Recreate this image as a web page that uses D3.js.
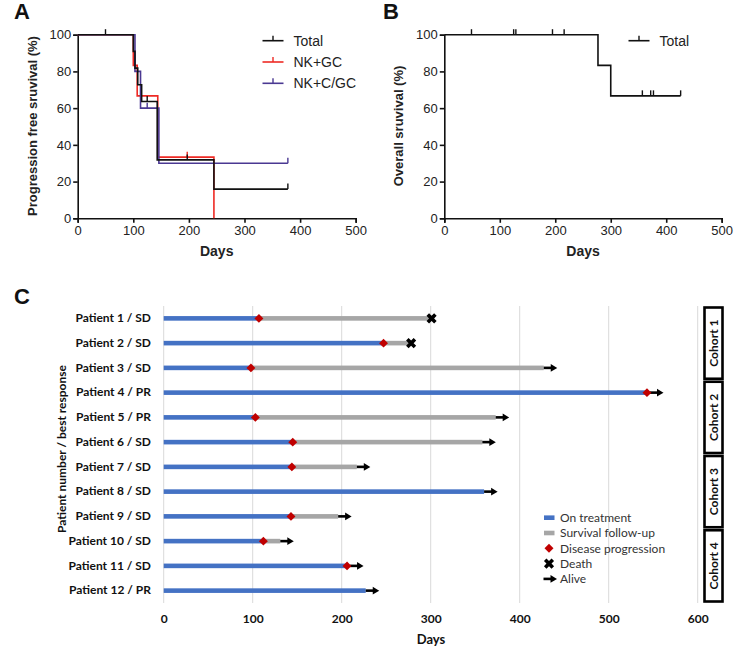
<!DOCTYPE html>
<html>
<head>
<meta charset="utf-8">
<script src="https://cdn.jsdelivr.net/npm/d3@7"></script>
<style>
  html, body { margin: 0; padding: 0; background: #fff; }
  svg { display: block; }
</style>
</head>
<body>
<svg id="chart" width="752" height="647"></svg>
<script>
// ---------------- DATA ----------------
// Panel A: progression-free survival (Kaplan–Meier steps)
const pfsTotalDays = [0, 100, 103, 108, 115, 143, 245, 378];
const pfsTotalSurv = [100, 90.9, 81.8, 72.7, 63.6, 31.8, 15.9, 15.9];
const pfsTotalCensored = [50, 125, 197, 378];

const pfsNkGcDays = [0, 100, 107, 144, 245];
const pfsNkGcSurv = [100, 83.3, 66.7, 33.3, 0];
const pfsNkGcCensored = [197];

const pfsNkCgcDays = [0, 103, 113, 146, 378];
const pfsNkCgcSurv = [100, 80, 60, 30, 30];
const pfsNkCgcCensored = [125, 378];

// Panel B: overall survival
const osTotalDays = [0, 277, 300, 426];
const osTotalSurv = [100, 83.3, 66.7, 66.7];
const osTotalCensored = [49, 125, 129, 195, 216, 357, 372, 377, 426];

const kmSeriesNames = ["Total", "NK+GC", "NK+C/GC"];
const kmXTicks = [0, 100, 200, 300, 400, 500];
const kmYTicks = [0, 20, 40, 60, 80, 100];

// Panel C: swimmer plot
const patients = ["Patient 1 / SD", "Patient 2 / SD", "Patient 3 / SD", "Patient 4 / PR",
  "Patient 5 / PR", "Patient 6 / SD", "Patient 7 / SD", "Patient 8 / SD",
  "Patient 9 / SD", "Patient 10 / SD", "Patient 11 / SD", "Patient 12 / PR"];
const treatmentEnd = [107, 247, 98, 543, 103, 145, 144, 360, 143, 112, 206, 227];
const followUpEnd  = [301, 278, 427, 543, 373, 358, 217, 360, 196, 131, 206, 227];
const progressionDay = [107, 247, 98, 543, 103, 145, 144, null, 143, 112, 206, null];
const outcome = ["Death", "Death", "Alive", "Alive", "Alive", "Alive", "Alive", "Alive",
  "Alive", "Alive", "Alive", "Alive"];
const cohorts = ["Cohort 1", "Cohort 2", "Cohort 3", "Cohort 4"];
const cohortSize = [3, 3, 3, 3];
const swimTicks = [0, 100, 200, 300, 400, 500, 600];
const swimLegend = ["On treatment", "Survival follow-up", "Disease progression", "Death", "Alive"];

// ---------------- STYLE ----------------
const COL_TOTAL = "#111111", COL_GC = "#EE2A24", COL_CGC = "#4A3892";
const COL_TREAT = "#4472C4", COL_FOLLOW = "#A6A6A6", COL_PROG = "#C00000";
const KM_FONT = "'Liberation Sans', Arial, sans-serif";
const C_FONT = "Lato, 'Open Sans', sans-serif";

const svg = d3.select("#chart");

// ---------------- KM helper ----------------
function kmPanel(opts) {
  const g = svg.append("g");
  const x = d3.scaleLinear().domain([0, 500]).range([opts.x0, opts.x1]);
  const y = d3.scaleLinear().domain([0, 100]).range([218.3, 34.7]);

  const xAxis = g.append("g").attr("transform", `translate(0,${y(0)})`)
    .call(d3.axisBottom(x).tickValues(kmXTicks).tickSizeOuter(0).tickSize(4.5).tickPadding(3));
  const yAxis = g.append("g").attr("transform", `translate(${x(0)},0)`)
    .call(d3.axisLeft(y).tickValues(kmYTicks).tickSizeOuter(0).tickSize(4.5).tickPadding(2));
  [xAxis, yAxis].forEach(a => {
    a.selectAll("path, line").attr("stroke", "#111").attr("stroke-width", 1.6);
    a.selectAll("text").attr("font-family", KM_FONT).attr("font-size", 13).attr("fill", "#222");
  });

  const line = d3.line().x(d => x(d[0])).y(d => y(d[1])).curve(d3.curveStepAfter);
  opts.drawOrder.forEach(si => {
    const s = opts.series[si];
    const pts = s.days.map((d, i) => [d, s.surv[i]]);
    g.append("path").attr("d", line(pts)).attr("fill", "none")
      .attr("stroke", s.color).attr("stroke-width", 1.6);
    s.cens.forEach(c => {
      let idx = d3.bisectRight(s.days, c) - 1;
      if (idx < 0) idx = 0;
      const sv = s.surv[idx];
      g.append("line").attr("x1", x(c)).attr("x2", x(c))
        .attr("y1", y(sv)).attr("y2", y(sv) - 5.5)
        .attr("stroke", s.color).attr("stroke-width", 1.4);
    });
  });

  opts.series.forEach((s, i) => {
    const ly = 40.7 + i * 21.3;
    g.append("line").attr("x1", opts.legX).attr("x2", opts.legX + 21)
      .attr("y1", ly).attr("y2", ly).attr("stroke", s.color).attr("stroke-width", 1.6);
    g.append("line").attr("x1", opts.legX + 10.5).attr("x2", opts.legX + 10.5)
      .attr("y1", ly).attr("y2", ly - 5).attr("stroke", s.color).attr("stroke-width", 1.4);
    g.append("text").attr("x", opts.legX + 31).attr("y", ly).attr("dy", "0.36em")
      .attr("font-family", KM_FONT).attr("font-size", 14).attr("fill", "#222").text(s.name);
  });

  g.append("text").attr("x", (opts.x0 + opts.x1) / 2).attr("y", 256)
    .attr("text-anchor", "middle").attr("font-family", KM_FONT).attr("font-weight", "bold")
    .attr("font-size", 14).attr("fill", "#222").text("Days");
  g.append("text").attr("transform", `translate(${opts.yTitleX},126) rotate(-90)`)
    .attr("text-anchor", "middle").attr("font-family", KM_FONT).attr("font-weight", "bold")
    .attr("font-size", 13).attr("fill", "#222").text(opts.yTitle);
  g.append("text").attr("x", opts.letterX).attr("y", 19).attr("font-family", KM_FONT)
    .attr("font-weight", "bold").attr("font-size", 22).attr("fill", "#111").text(opts.letter);
}

kmPanel({
  x0: 77.7, x1: 355.7, legX: 262.5, yTitleX: 37, letterX: 14, letter: "A",
  yTitle: "Progression free sruvival (%)",
  series: [
    { name: kmSeriesNames[0], days: pfsTotalDays, surv: pfsTotalSurv, cens: pfsTotalCensored, color: COL_TOTAL },
    { name: kmSeriesNames[1], days: pfsNkGcDays, surv: pfsNkGcSurv, cens: pfsNkGcCensored, color: COL_GC },
    { name: kmSeriesNames[2], days: pfsNkCgcDays, surv: pfsNkCgcSurv, cens: pfsNkCgcCensored, color: COL_CGC }
  ],
  drawOrder: [1, 2, 0]
});

kmPanel({
  x0: 444.3, x1: 721.7, legX: 628.5, yTitleX: 403, letterX: 383, letter: "B",
  yTitle: "Overall sruvival (%)",
  series: [
    { name: kmSeriesNames[0], days: osTotalDays, surv: osTotalSurv, cens: osTotalCensored, color: COL_TOTAL }
  ],
  drawOrder: [0]
});

// ---------------- Panel C ----------------
const gc = svg.append("g");
const xs = d3.scaleLinear().domain([0, 600]).range([163.7, 697.7]);
const ys = d3.scaleBand().domain(patients).range([306, 603]);
const yc = p => ys(p) + ys.bandwidth() / 2;

// gridlines
gc.append("g").selectAll("line").data(swimTicks).join("line")
  .attr("x1", d => xs(d)).attr("x2", d => xs(d))
  .attr("y1", 306).attr("y2", 603)
  .attr("stroke", "#D9D9D9").attr("stroke-width", 1);

// tick labels via axis
const xAxisC = gc.append("g").attr("transform", "translate(0,612)")
  .call(d3.axisBottom(xs).tickValues(swimTicks).tickSize(0).tickPadding(2));
xAxisC.select(".domain").remove();
xAxisC.selectAll("text").attr("font-family", C_FONT).attr("font-weight", "bold")
  .attr("font-size", 12).attr("fill", "#111");

// patient labels
const yAxisC = gc.append("g").attr("transform", "translate(156,0)")
  .call(d3.axisLeft(ys).tickSize(0).tickPadding(5));
yAxisC.select(".domain").remove();
yAxisC.selectAll("text").attr("font-family", C_FONT).attr("font-weight", "bold")
  .attr("font-size", 12).attr("fill", "#111");

const BAR_H = 4.6;
// follow-up bars (grey)
gc.append("g").selectAll("rect").data(patients).join("rect")
  .attr("x", (p, i) => xs(treatmentEnd[i]))
  .attr("width", (p, i) => Math.max(0, xs(followUpEnd[i]) - xs(treatmentEnd[i])))
  .attr("y", p => yc(p) - BAR_H / 2).attr("height", BAR_H)
  .attr("fill", COL_FOLLOW);
// treatment bars (blue)
gc.append("g").selectAll("rect").data(patients).join("rect")
  .attr("x", xs(0))
  .attr("width", (p, i) => xs(treatmentEnd[i]) - xs(0))
  .attr("y", p => yc(p) - BAR_H / 2).attr("height", BAR_H)
  .attr("fill", COL_TREAT);

// arrow & death markers
function drawArrow(g, x0, yy) {
  g.append("rect").attr("x", x0).attr("y", yy - 1.3).attr("width", 8).attr("height", 2.6).attr("fill", "#000");
  g.append("path").attr("d", `M${x0 + 7},${yy - 3.8} L${x0 + 13.5},${yy} L${x0 + 7},${yy + 3.8} Z`).attr("fill", "#000");
}
const deathSym = d3.symbol().type(d3.symbolCross).size(64);
const diamondSym = d3.symbol().type(d3.symbolSquare).size(40);

patients.forEach((p, i) => {
  const yy = yc(p);
  if (outcome[i] === "Alive") {
    drawArrow(gc, xs(followUpEnd[i]) + (progressionDay[i] === followUpEnd[i] ? 3 : 0), yy);
  }
});
patients.forEach((p, i) => {
  const yy = yc(p);
  if (progressionDay[i] !== null) {
    gc.append("path").attr("d", diamondSym())
      .attr("transform", `translate(${xs(progressionDay[i])},${yy}) rotate(45)`)
      .attr("fill", COL_PROG);
  }
  if (outcome[i] === "Death") {
    gc.append("path").attr("d", deathSym())
      .attr("transform", `translate(${xs(followUpEnd[i])},${yy}) rotate(45)`)
      .attr("fill", "#000");
  }
});

// cohort boxes
let startIdx = 0;
cohorts.forEach((c, k) => {
  const y0 = ys(patients[startIdx]);
  const y1 = ys(patients[startIdx + cohortSize[k] - 1]) + ys.bandwidth();
  startIdx += cohortSize[k];
  gc.append("rect").attr("x", 704.5).attr("y", y0 + 1.5).attr("width", 18)
    .attr("height", y1 - y0 - 3).attr("fill", "#fff").attr("stroke", "#000").attr("stroke-width", 2.6);
  gc.append("text").attr("transform", `translate(${713.5},${(y0 + y1) / 2}) rotate(-90)`)
    .attr("text-anchor", "middle").attr("dy", "0.36em")
    .attr("font-family", C_FONT).attr("font-weight", "bold").attr("font-size", 12)
    .attr("fill", "#111").text(c);
});

// legend
const legY0 = 517.7, legStep = 15.3, legX = 544;
swimLegend.forEach((name, i) => {
  const ly = legY0 + i * legStep;
  if (i === 0 || i === 1) {
    gc.append("rect").attr("x", legX).attr("y", ly - 2.3).attr("width", 10.5).attr("height", 4.6)
      .attr("fill", i === 0 ? COL_TREAT : COL_FOLLOW);
  } else if (i === 2) {
    gc.append("path").attr("d", diamondSym()).attr("transform", `translate(${legX + 5},${ly}) rotate(45)`).attr("fill", COL_PROG);
  } else if (i === 3) {
    gc.append("path").attr("d", deathSym()).attr("transform", `translate(${legX + 5},${ly}) rotate(45)`).attr("fill", "#000");
  } else {
    drawArrow(gc, legX - 0.5, ly);
  }
  gc.append("text").attr("x", 560).attr("y", ly).attr("dy", "0.36em")
    .attr("font-family", C_FONT).attr("font-size", 12).attr("fill", "#333").text(name);
});

// titles
gc.append("text").attr("x", 431).attr("y", 644).attr("text-anchor", "middle")
  .attr("font-family", C_FONT).attr("font-weight", "bold").attr("font-size", 13)
  .attr("fill", "#111").text("Days");
gc.append("text").attr("transform", "translate(66,449) rotate(-90)").attr("text-anchor", "middle")
  .attr("font-family", C_FONT).attr("font-weight", "bold").attr("font-size", 12)
  .attr("fill", "#111").text("Patient number / best response");
gc.append("text").attr("x", 14).attr("y", 304).attr("font-family", KM_FONT)
  .attr("font-weight", "bold").attr("font-size", 22).attr("fill", "#111").text("C");
</script>
</body>
</html>
